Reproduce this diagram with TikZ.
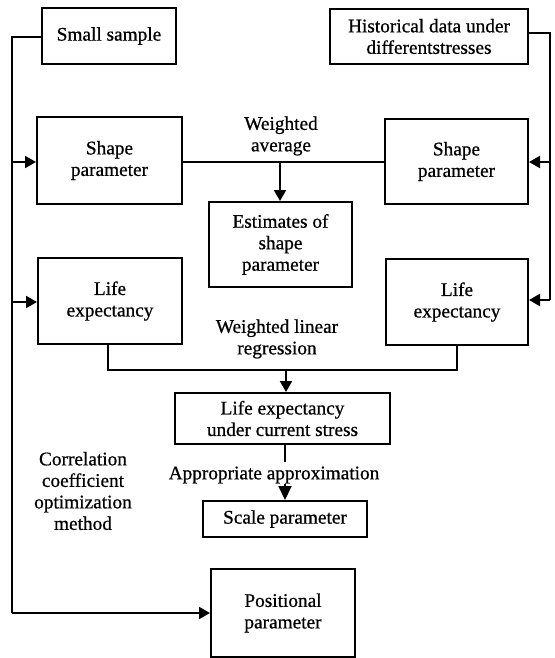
\documentclass[tikz,border=0pt]{standalone}
\usepackage{fontspec}
\setmainfont{Liberation Serif}[FakeBold=0.7]
\usetikzlibrary{arrows.meta}
\begin{document}
\begin{tikzpicture}[x=1pt,y=-1pt,
  box/.style={draw,line width=2pt,align=center,inner sep=0pt,font=\fontsize{19.3}{21.5}\selectfont},
  lbl/.style={align=center,inner sep=0pt,font=\fontsize{19.3}{21.5}\selectfont},
  conn/.style={line width=2pt},
  arr/.style={line width=2pt,-{Triangle[length=11pt,width=12pt]}}]
\useasboundingbox (0,0) rectangle (554,658);
\node[box,minimum width=134pt,minimum height=56pt] (small) at (109,36) {Small sample};
\node[box,minimum width=198pt,minimum height=55pt] (hist) at (429,36.5) {Historical data under\\differentstresses};
\node[box,minimum width=145pt,minimum height=87pt] (shapeL) at (109.5,160.5) {Shape\\parameter};
\node[box,minimum width=143pt,minimum height=85pt] (shapeR) at (456.5,161.5) {Shape\\parameter};
\node[box,minimum width=143pt,minimum height=85pt] (est) at (280.5,244.5) {Estimates of\\shape\\parameter};
\node[box,minimum width=144pt,minimum height=86pt] (lifeL) at (110,301) {Life\\expectancy};
\node[box,minimum width=142pt,minimum height=86pt] (lifeR) at (457,302) {Life\\expectancy};
\node[box,minimum width=215pt,minimum height=51pt] (cur) at (282.5,418.5) {Life expectancy\\under current stress};
\node[box,minimum width=164pt,minimum height=36pt] (scale) at (285,519) {Scale parameter};
\node[box,minimum width=144pt,minimum height=88pt] (pos) at (283,613) {Positional\\parameter};
\node[lbl] (wavg) at (281,136) {Weighted\\average};
\node[lbl] (wlr) at (277,339) {Weighted linear\\regression};
\node[lbl] (appr) at (274,475) {Appropriate approximation};
\node[lbl] (corr) at (83,491) {Correlation\\coefficient\\optimization\\method};
% left trunk
\coordinate (lt) at (12,37);
\coordinate (lb) at (12,613);
\draw[conn] (small.west |- lt) -- (lt) -- (lb);
\draw[arr] (12,162) -- (shapeL.west |- 0,162);
\draw[arr] (12,302) -- (lifeL.west |- 0,302);
\draw[arr] (lb) -- (pos.west |- lb);
% right trunk
\coordinate (rt) at (550,33);
\coordinate (rb) at (550,300);
\draw[conn] (hist.east |- rt) -- (rt) -- (rb);
\draw[arr] (550,162) -- (shapeR.east |- 0,162);
\draw[arr] (rb) -- (lifeR.east |- rb);
% weighted average
\draw[conn] (shapeL.east |- 0,162) -- (shapeR.west |- 0,162);
\coordinate (wa) at (280,162);
\draw[arr] (wa) -- (est.north -| wa);
% regression
\coordinate (ra) at (108,370);
\coordinate (rb2) at (457,370);
\draw[conn] (lifeL.south -| ra) -- (ra) -- (rb2) -- (lifeR.south -| rb2);
\coordinate (rc) at (286,370);
\draw[arr] (rc) -- (cur.north -| rc);
% approximation
\coordinate (ap1) at (285,462);
\coordinate (ap2) at (285,484);
\draw[conn] (cur.south -| ap1) -- (ap1);
\draw[line width=2pt,-{Triangle[length=14pt,width=13pt]}] (ap2) -- (scale.north -| ap2);
\end{tikzpicture}
\end{document}
